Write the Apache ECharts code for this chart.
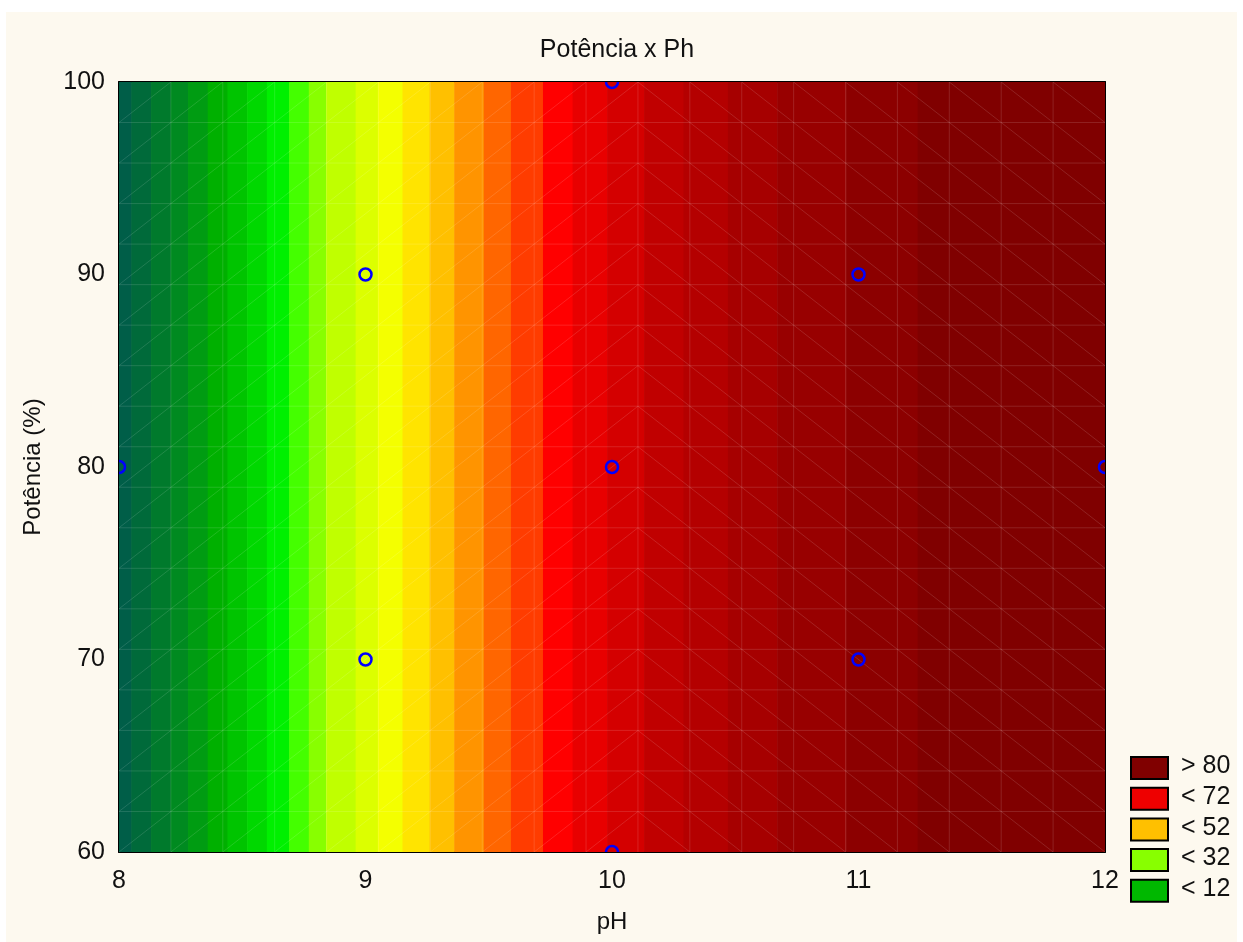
<!DOCTYPE html>
<html>
<head>
<meta charset="utf-8">
<script src="https://cdn.jsdelivr.net/npm/echarts@6/dist/echarts.min.js"></script>
<style>
  html, body { margin: 0; padding: 0; background: #ffffff; }
  #chart { width: 1243px; height: 942px; }
</style>
</head>
<body>
<div id="chart"></div>
<script>
// Axis ranges and ticks
const phRange = [8, 12];
const powerRange = [60, 100];
const phTickStep = 1;
const powerTickStep = 10;

// Contour bands along pH (edges) and their fill colours
const bandEdges = [8.00, 8.05, 8.13, 8.21, 8.28, 8.36, 8.44, 8.52, 8.60, 8.69,
                   8.77, 8.84, 8.96, 9.05, 9.15, 9.26, 9.36, 9.48, 9.59, 9.72,
                   9.84, 9.98, 10.13, 10.29, 10.47, 10.67, 10.95, 11.24, 12.00];
const bandColors = ['#005e48', '#006a3a', '#007a2c', '#008a20', '#009c12', '#00b000',
                    '#00c400', '#00d800', '#00f000', '#44ff00', '#88ff00', '#c0ff00',
                    '#dcff00', '#f4ff00', '#ffe400', '#ffc000', '#ff9400', '#ff6600',
                    '#ff3c00', '#ff0000', '#e80000', '#d40000', '#c00000', '#b40000',
                    '#a60000', '#980000', '#8c0000', '#800000'];

// Experimental design points
const pointPh = [8, 9, 9, 10, 10, 10, 11, 11, 12];
const pointPower = [80, 90, 70, 100, 80, 60, 90, 70, 80];

// Legend entries
const legendLabels = ['> 80', '< 72', '< 52', '< 32', '< 12'];
const legendColors = ['#800000', '#ee0000', '#ffc000', '#88ff00', '#00b800'];

// Interpolation mesh divisions (cells per axis)
const meshDivisions = 19;
const meshApexColumn = 10;

const FONT = '"Liberation Sans", Arial, sans-serif';
const FS = 25;

const bandData = [];
for (let i = 0; i < bandColors.length; i++) {
  bandData.push([bandEdges[i], bandEdges[i + 1], i]);
}
const pointData = pointPh.map((p, i) => [p, pointPower[i]]);

const chart = echarts.init(document.getElementById('chart'), null, { renderer: 'canvas' });

function renderBand(params, api) {
  const x0 = api.value(0), x1 = api.value(1);
  const tl = api.coord([x0, powerRange[1]]);
  const br = api.coord([x1, powerRange[0]]);
  return {
    type: 'rect',
    shape: { x: tl[0], y: tl[1], width: br[0] - tl[0] + 0.6, height: br[1] - tl[1] },
    style: { fill: bandColors[api.value(2)] }
  };
}

function renderMesh(params, api) {
  const dx = (phRange[1] - phRange[0]) / meshDivisions;
  const dy = (powerRange[1] - powerRange[0]) / meshDivisions;
  const children = [];
  const seg = (a, b) => {
    const p = api.coord(a), q = api.coord(b);
    children.push({
      type: 'line',
      shape: { x1: p[0], y1: p[1], x2: q[0], y2: q[1] },
      style: { stroke: 'rgba(255,255,255,0.13)', lineWidth: 1 }
    });
  };
  for (let k = 1; k < meshDivisions; k++) {
    const x = phRange[0] + k * dx;
    seg([x, powerRange[0]], [x, powerRange[1]]);
    const y = powerRange[0] + k * dy;
    seg([phRange[0], y], [phRange[1], y]);
  }
  for (let k = 0; k < meshDivisions; k++) {
    const xa = phRange[0] + k * dx, xb = xa + dx;
    for (let j = 0; j < meshDivisions; j++) {
      const ya = powerRange[0] + j * dy, yb = ya + dy;
      if (k < meshApexColumn) seg([xa, ya], [xb, yb]);
      else seg([xa, yb], [xb, ya]);
    }
  }
  return { type: 'group', children: children };
}

function renderPoint(params, api) {
  const c = api.coord([api.value(0), api.value(1)]);
  return {
    type: 'circle',
    shape: { cx: c[0], cy: c[1], r: 6 },
    style: { fill: 'none', stroke: '#0000ff', lineWidth: 2.5 }
  };
}

// Legend built from the entries above
const legendGraphics = [];
legendLabels.forEach((label, i) => {
  const top = 756 + i * 30.7;
  legendGraphics.push({
    type: 'rect',
    left: 1130, top: top,
    shape: { width: 37, height: 22 },
    style: { fill: legendColors[i], stroke: '#000', lineWidth: 2 },
    z: 10
  });
  legendGraphics.push({
    type: 'text',
    left: 1181, top: top - 2,
    style: { text: label, font: FS + 'px ' + FONT, fill: '#111' },
    z: 10
  });
});

const axisLineStyle = { show: true, lineStyle: { color: '#000', width: 2 } };
const tickStyle = { show: true, inside: true, length: 5, lineStyle: { color: '#000', width: 1.5 } };

const option = {
  backgroundColor: '#ffffff',
  animation: false,
  title: {
    text: 'Potência x Ph',
    left: 612,
    textAlign: 'center',
    top: 33,
    textStyle: { fontFamily: FONT, fontSize: FS, fontWeight: 'normal', color: '#111' }
  },
  graphic: [
    {
      type: 'rect', left: 6, top: 12, z: -10,
      shape: { width: 1231, height: 930 },
      style: { fill: '#fdf9ef' }
    }
  ].concat(legendGraphics),
  grid: { left: 119, right: 138, top: 82, bottom: 90, show: false },
  xAxis: [
    {
      type: 'value', min: phRange[0], max: phRange[1], interval: phTickStep,
      position: 'bottom',
      axisLine: axisLineStyle, axisTick: tickStyle,
      axisLabel: { fontFamily: FONT, fontSize: FS, color: '#111', margin: 17 },
      splitLine: { show: false },
      name: 'pH', nameLocation: 'middle', nameGap: 58,
      nameTextStyle: { fontFamily: FONT, fontSize: FS - 1, color: '#111' }
    },
    {
      type: 'value', min: phRange[0], max: phRange[1], interval: 0.4,
      position: 'top',
      axisLine: axisLineStyle, axisTick: tickStyle,
      axisLabel: { show: false }, splitLine: { show: false }
    }
  ],
  yAxis: [
    {
      type: 'value', min: powerRange[0], max: powerRange[1], interval: powerTickStep,
      position: 'left',
      axisLine: axisLineStyle, axisTick: tickStyle,
      axisLabel: { fontFamily: FONT, fontSize: FS, color: '#111', margin: 14 },
      splitLine: { show: false },
      name: 'Potência (%)', nameLocation: 'middle', nameGap: 74, nameRotate: 90,
      nameTextStyle: { fontFamily: FONT, fontSize: FS - 1, color: '#111' }
    },
    {
      type: 'value', min: powerRange[0], max: powerRange[1], interval: 4,
      position: 'right',
      axisLine: axisLineStyle, axisTick: tickStyle,
      axisLabel: { show: false }, splitLine: { show: false }
    }
  ],
  series: [
    {
      type: 'custom', name: 'bands', renderItem: renderBand,
      data: bandData, encode: { x: [0, 1] }, clip: true, silent: true, z: 1
    },
    {
      type: 'custom', name: 'mesh', renderItem: renderMesh,
      data: [[phRange[0], powerRange[0]]], clip: true, silent: true, z: 2
    },
    {
      type: 'custom', name: 'pontos', renderItem: renderPoint,
      data: pointData, encode: { x: 0, y: 1 }, clip: true, z: 3
    }
  ]
};

chart.setOption(option);
</script>
</body>
</html>
